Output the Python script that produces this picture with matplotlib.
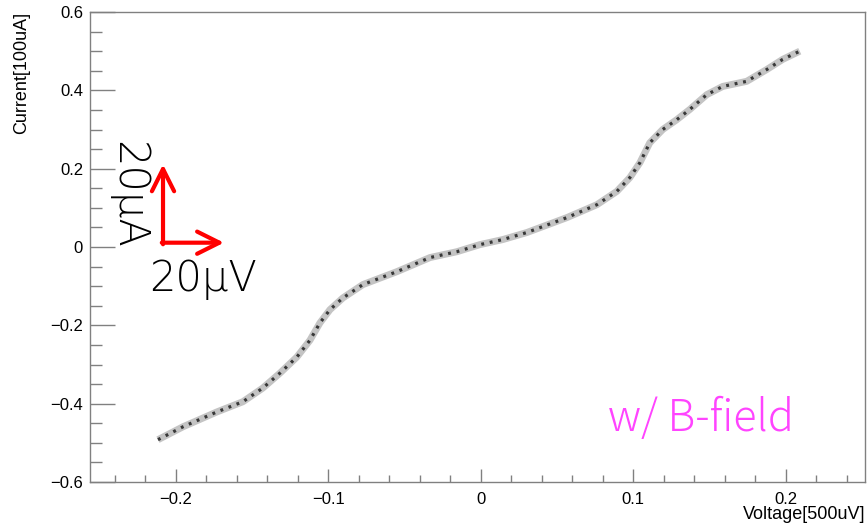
import matplotlib
matplotlib.use("Agg")
import matplotlib.pyplot as plt
from matplotlib.ticker import MultipleLocator

# I-V curve (units: 500uV, 100uA)
voltage = [-0.2118, -0.1954, -0.1731, -0.1561, -0.1430, -0.1318, -0.1207,
           -0.1121, -0.1056, -0.0990, -0.0905, -0.0774, -0.0551, -0.0334,
           -0.0157, -0.0007, 0.0144, 0.0302, 0.0564, 0.0761, 0.0892, 0.0977,
           0.1043, 0.1108, 0.1193, 0.1285, 0.1370, 0.1482, 0.1587, 0.1744,
           0.1875, 0.1980, 0.2092]
current = [-0.492, -0.459, -0.421, -0.395, -0.360, -0.322, -0.281,
           -0.238, -0.194, -0.160, -0.130, -0.096, -0.063, -0.027,
           -0.012, 0.006, 0.019, 0.037, 0.075, 0.108, 0.142, 0.177,
           0.215, 0.266, 0.300, 0.325, 0.351, 0.389, 0.410, 0.423,
           0.453, 0.479, 0.500]

# scale bar: 20 uV = 0.04, 20 uA = 0.2
bar_origin = (-0.2085, 0.011)
bar_dv = 0.04
bar_di = 0.2

plt.rcParams['font.family'] = ['Liberation Sans', 'DejaVu Sans']

fig = plt.figure(figsize=(8.67, 5.24), dpi=100)
ax = fig.add_axes([90/867, 42/524, 775/867, 470/524])

grey = '#808080'
ax.plot(voltage, current, color='#c4c4c4', lw=5.0, solid_capstyle='butt', zorder=2)
ax.plot(voltage, current, color='#383838', lw=2.3, dashes=(0.9, 1.8), zorder=3)

ax.set_xlim(-0.2564, 0.252)
ax.set_ylim(-0.6, 0.6)
ax.xaxis.set_major_locator(MultipleLocator(0.1))
ax.xaxis.set_minor_locator(MultipleLocator(0.02))
ax.yaxis.set_major_locator(MultipleLocator(0.2))
ax.yaxis.set_minor_locator(MultipleLocator(0.05))
ax.xaxis.set_major_formatter(lambda v, p: '0' if abs(v) < 1e-9 else f'{v:.1f}'.replace('-', '\u2212'))
ax.yaxis.set_major_formatter(lambda v, p: '0' if abs(v) < 1e-9 else f'{v:.1f}'.replace('-', '\u2212'))

for s in ax.spines.values():
    s.set_color(grey)
    s.set_linewidth(1.0)
ax.tick_params(axis='both', which='both', direction='in', color=grey, width=1.0,
               labelsize=12, labelcolor='black', top=False, right=False)
ax.tick_params(axis='y', which='major', length=18, pad=5)
ax.tick_params(axis='y', which='minor', length=8.6)
ax.tick_params(axis='x', which='major', length=9.4, pad=7)
ax.tick_params(axis='x', which='minor', length=5)

fig.text(22/867, 1 - 12/524, 'Current[100uA]', rotation=90, ha='center', va='top', fontsize=13)
fig.text(865/867, 1 - 519/524, 'Voltage[500uV]', ha='right', va='baseline', fontsize=13)

# red scale arrows
x0, y0 = bar_origin
arrow = dict(arrowstyle='->,head_length=0.8,head_width=0.4', lw=3, color='#ff0000',
             shrinkA=0, shrinkB=0, mutation_scale=20)
ax.annotate('', xy=(x0 + bar_dv, y0), xytext=(x0 - 0.0008, y0), arrowprops=arrow)
ax.annotate('', xy=(x0, y0 + bar_di), xytext=(x0, y0 - 0.004), arrowprops=arrow)

ax.text(-0.2315, 0.132, '20μA', rotation=-90, ha='center', va='center',
        fontsize=30, family='DejaVu Sans', fontweight='light')
ax.text(-0.182, -0.083, '20μV', ha='center', va='center', fontsize=30,
        family='DejaVu Sans', fontweight='light')
ax.text(0.0833, -0.469, 'w/ B-field', ha='left', va='baseline', fontsize=31,
        color='#ff44ff', family=['Noto Sans CJK JP', 'DejaVu Sans'], fontweight='light')

fig.savefig('out.png', dpi=100)
